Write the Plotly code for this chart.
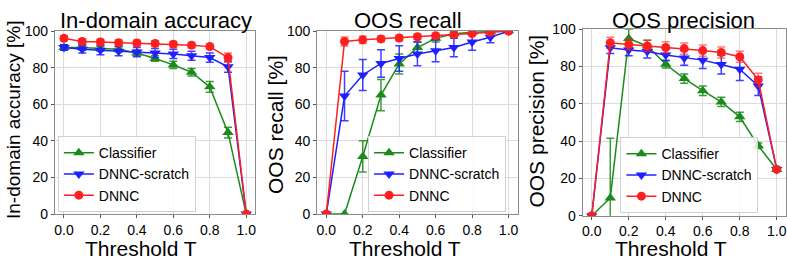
import plotly.graph_objects as go

thresholds = [0.0, 0.1, 0.2, 0.3, 0.4, 0.5, 0.6, 0.7, 0.8, 0.9, 1.0]
series_names = ["Classifier", "DNNC-scratch", "DNNC"]
panel_titles = ["In-domain accuracy", "OOS recall", "OOS precision"]
y_titles = ["In-domain accuracy [%]", "OOS recall [%]", "OOS precision [%]"]
x_title = "Threshold T"

# In-domain accuracy
acc_clf = [91, 91, 90.5, 90, 88, 85, 81.5, 77.5, 69.5, 44.5, 0]
acc_clf_err = [1.5, 1.5, 1.5, 1.5, 1.5, 1.5, 2, 2, 3, 3, 0.5]
acc_scr = [91, 90, 89.5, 89, 88.5, 88, 87.5, 86.5, 85.5, 80.5, 0]
acc_scr_err = [1.5, 2, 2.5, 2.5, 2.5, 2.5, 2.5, 2.5, 2.5, 3, 0.5]
acc_dnnc = [96, 94.3, 94, 93.6, 93.5, 93.2, 92.8, 92.3, 91.5, 85.5, 0]
acc_dnnc_err = [1.5, 1.5, 1.5, 1.5, 1.5, 1.5, 1.5, 1.5, 1.5, 2.5, 0.5]

# OOS recall
rec_clf = [0, 0, 31.5, 65, 82, 91, 96, 98.5, 99.3, 99.7, 100]
rec_clf_err = [0, 0, 8.5, 8.5, 5.5, 3, 2, 1, 0.5, 0.5, 0]
rec_scr = [0, 64.5, 76, 82.3, 85, 87.5, 89.2, 91, 94, 96.6, 100]
rec_scr_err = [0, 13.5, 8.5, 7.5, 7, 6.5, 6, 5, 4.5, 3, 0]
rec_dnnc = [0, 94.3, 95.2, 95.7, 96.2, 96.9, 97.4, 98.1, 98.6, 99.3, 100]
rec_dnnc_err = [0, 2.5, 2, 1.5, 1.5, 1.5, 1.5, 1.2, 1, 0.5, 0]

# OOS precision
pre_clf = [0, 9.5, 95, 91, 81.2, 73.5, 67, 61, 53, 37.5, 24.8]
pre_clf_err = [0, 32, 5, 3, 2, 2.5, 2.5, 2.5, 2.5, 1.5, 1]
pre_scr = [0, 90, 88.8, 88, 86.2, 84.6, 83.4, 81, 78.5, 69.5, 24.8]
pre_scr_err = [0.5, 3, 3, 3.5, 3, 4, 4.5, 5, 6, 5, 1]
pre_dnnc = [0, 92.7, 91.8, 91, 90.2, 89.6, 88.5, 87.5, 85.2, 72.8, 24.8]
pre_dnnc_err = [0.5, 3, 3, 3, 3, 3, 3, 3, 3, 3.5, 1]

panels = [
    [(acc_clf, acc_clf_err), (acc_scr, acc_scr_err), (acc_dnnc, acc_dnnc_err)],
    [(rec_clf, rec_clf_err), (rec_scr, rec_scr_err), (rec_dnnc, rec_dnnc_err)],
    [(pre_clf, pre_clf_err), (pre_scr, pre_scr_err), (pre_dnnc, pre_dnnc_err)],
]

colors = ["#1a8a1a", "#1f1fff", "#ff1f1f"]
err_colors = ["rgba(26,138,26,0.85)", "rgba(31,31,255,0.85)", "rgba(255,31,31,0.6)"]
symbols = ["triangle-up", "triangle-down", "circle"]
msizes = [10, 10, 9]

W, H = 787, 271
# pixel boxes (left, right, top, bottom)
boxes = [(54, 255, 24.5, 219), (317, 518, 24.5, 219), (583, 787, 22.5, 220.7)]
legend_pos = [(57, 217), (368, 217), (621, 218)]
title_cx = [155, 408, 684]
xtitle_cx = [140, 405, 672]
ytitle_x = [12, 275, 537]
ytitle_cy = [118, 124, 120]
ytitle_size = [19, 21, 21]

FONT = "Liberation Sans, Arial, Helvetica, sans-serif"
fig = go.Figure()
layout = dict(
    width=W, height=H, margin=dict(l=0, r=0, t=0, b=0),
    plot_bgcolor="white", paper_bgcolor="white",
    font=dict(family=FONT, color="black"),
    annotations=[],
)

for p in range(3):
    xa = "x" if p == 0 else f"x{p+1}"
    ya = "y" if p == 0 else f"y{p+1}"
    lg = "legend" if p == 0 else f"legend{p+1}"
    for s in range(3):
        vals, errs = panels[p][s]
        fig.add_trace(go.Scatter(
            x=thresholds, y=vals, name=series_names[s],
            mode="lines+markers",
            line=dict(color=colors[s], width=1.5),
            marker=dict(symbol=symbols[s], size=msizes[s], color=colors[s]),
            error_y=dict(type="data", array=errs, visible=True,
                         color=err_colors[s], thickness=1.5, width=4),
            xaxis=xa, yaxis=ya, legend=lg, cliponaxis=True,
        ))
    l, r, t, b = boxes[p]
    xkey = "xaxis" if p == 0 else f"xaxis{p+1}"
    ykey = "yaxis" if p == 0 else f"yaxis{p+1}"
    layout[xkey] = dict(
        domain=[l / W, r / W], anchor=ya, range=[-0.05, 1.05],
        tickvals=[0, 0.2, 0.4, 0.6, 0.8, 1.0], tickformat=".1f",
        showgrid=True, gridcolor="#dcdcdc", gridwidth=1,
        showline=True, linecolor="#8c8c8c", linewidth=1, mirror=True,
        ticks="outside", ticklen=3, tickcolor="#555", tickfont=dict(size=14),
        zeroline=False,
    )
    layout[ykey] = dict(
        domain=[1 - b / H, 1 - t / H], anchor=xa, range=[0, 100],
        tickvals=[0, 20, 40, 60, 80, 100],
        showgrid=True, gridcolor="#dcdcdc", gridwidth=1,
        showline=True, linecolor="#8c8c8c", linewidth=1, mirror=True,
        ticks="outside", ticklen=3, tickcolor="#555", tickfont=dict(size=14),
        zeroline=False,
    )
    lx, ly = legend_pos[p]
    layout[lg] = dict(
        x=lx / W, y=1 - ly / H, xanchor="left", yanchor="bottom",
        bgcolor="rgba(255,255,255,0.85)", bordercolor="#d0d0d0", borderwidth=1,
        font=dict(size=14), itemwidth=30, tracegroupgap=0,
    )
    layout["annotations"].append(dict(
        text=panel_titles[p], x=title_cx[p] / W, y=1 - 13 / H, xref="paper", yref="paper",
        showarrow=False, font=dict(size=22), xanchor="center", yanchor="middle"))
    layout["annotations"].append(dict(
        text=x_title, x=xtitle_cx[p] / W, y=1 - 256 / H, xref="paper", yref="paper",
        showarrow=False, font=dict(size=21), xanchor="center", yanchor="middle"))
    layout["annotations"].append(dict(
        text=y_titles[p], x=ytitle_x[p] / W, y=1 - ytitle_cy[p] / H,
        xref="paper", yref="paper", textangle=-90,
        showarrow=False, font=dict(size=ytitle_size[p]), xanchor="center", yanchor="middle"))

fig.update_layout(**layout)
fig.write_html("out.html", config={"displayModeBar": False},
               post_script="document.body.style.margin='0';document.body.style.overflow='hidden';")
